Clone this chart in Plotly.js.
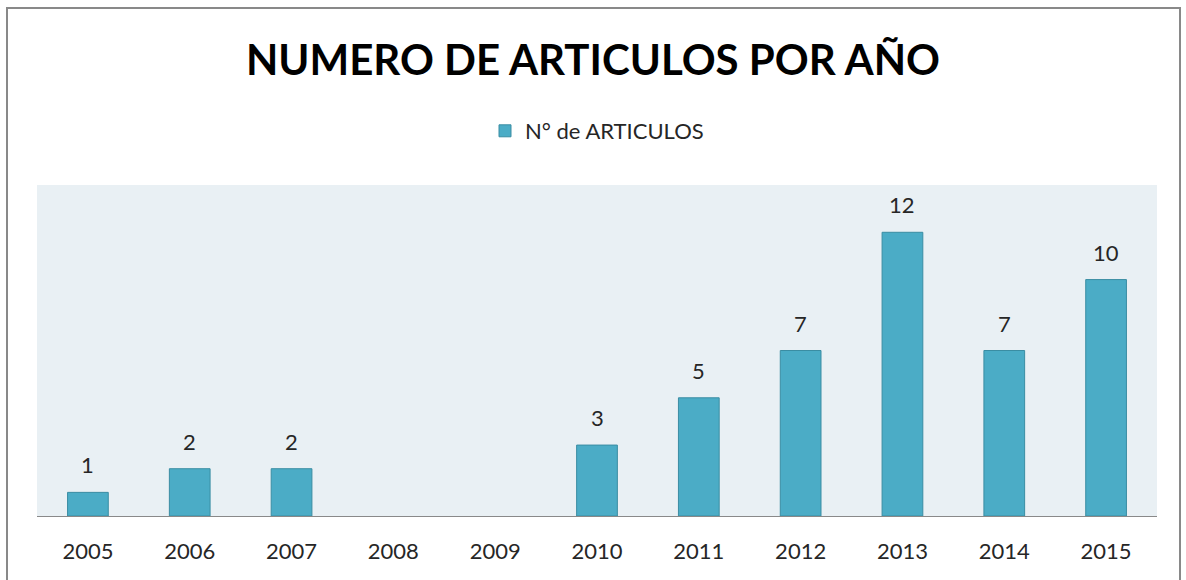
<!DOCTYPE html>
<html><head><meta charset="utf-8">
<script src="https://cdn.plot.ly/plotly-3.0.1.min.js"></script>
<style>html,body{margin:0;padding:0;background:#fff;}#chart{width:1186px;height:580px;}</style>
</head><body><div id="chart"></div>
<script>
const years = ['2005','2006','2007','2008','2009','2010','2011','2012','2013','2014','2015'];
const articles = [1, 2, 2, 0, 0, 3, 5, 7, 12, 7, 10];
const seriesName = 'N° de ARTICULOS';
const chartTitle = 'NUMERO DE ARTICULOS POR AÑO';

const FONT = 'Lato, "Open Sans", sans-serif';
const labels = years.map((y, i) => ({
  x: i, y: articles[i], text: String(articles[i]), showarrow: false,
  xref: 'x', yref: 'y',
  yanchor: 'bottom', yshift: 12, font: {family: FONT, size: 22, color: '#262626'}
})).filter(a => a.y > 0);

const trace = {
  type: 'bar', x: years, y: articles, name: seriesName,
  marker: {color: '#4BACC6', line: {color: articles.map(v => v > 0 ? '#3A8DA3' : 'rgba(0,0,0,0)'), width: 1}},
  hoverinfo: 'x+y', showlegend: true
};

const layout = {
  width: 1186, height: 580,
  margin: {l: 37, r: 29, t: 185, b: 64, pad: 0},
  paper_bgcolor: '#ffffff', plot_bgcolor: '#E9F0F4',
  font: {family: FONT, size: 22, color: '#262626'},
  title: {text: '<b>' + chartTitle + '</b>', x: 0.5, xanchor: 'center', y: 1 - 60/580, yanchor: 'middle', yref: 'container',
          font: {family: FONT, size: 42, color: '#000000'}},
  showlegend: true,
  legend: {orientation: 'h', x: 0.5, xanchor: 'center', y: (516-131)/331, yanchor: 'middle',
           font: {family: FONT, size: 22, color: '#262626'}, bgcolor: 'rgba(0,0,0,0)'},
  bargap: 0.6,
  xaxis: {type: 'category', range: [-0.5, years.length - 0.5], showline: true, linecolor: '#898989', linewidth: 1, showgrid: false, zeroline: false,
          ticks: '', tickfont: {family: FONT, size: 22, color: '#262626'}, ticklabelstandoff: 16},
  yaxis: {range: [0, 14], showticklabels: false, showgrid: false, zeroline: false, showline: false, ticks: ''},
  annotations: labels,
  shapes: [{type: 'rect', xref: 'paper', yref: 'paper',
            x0: (7-37)/1120, x1: (1180-37)/1120, y0: (516-600)/331, y1: (516-8)/331,
            line: {color: '#898989', width: 2}, fillcolor: 'rgba(0,0,0,0)', layer: 'above'}]
};

Plotly.newPlot('chart', [trace], layout, {displayModeBar: false, staticPlot: true});
</script></body></html>
